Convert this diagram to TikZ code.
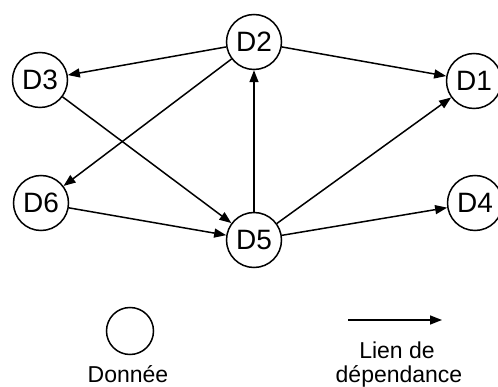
\documentclass[tikz,border=0pt]{standalone}
\usepackage{fontspec}
\setmainfont{Liberation Sans}
\usetikzlibrary{arrows.meta}
\begin{document}
\begin{tikzpicture}[x=1pt,y=-1pt,
  data/.style={draw,circle,line width=1.5pt,minimum size=55pt,inner sep=0pt,font=\fontsize{28}{28}\selectfont},
  dep/.style={line width=1.5pt,-{Triangle[length=12pt,width=9pt]}},
  legtext/.style={font=\fontsize{23}{25}\selectfont,inner sep=0pt}]
\useasboundingbox (0,0) rectangle (498,387);
\node[data] (D2) at (254,42) {D2};
\node[data] (D3) at (40,80) {D3};
\node[data] (D1) at (474,81) {D1};
\node[data] (D6) at (41,203) {D6};
\node[data] (D5) at (254,240) {D5};
\node[data] (D4) at (475,203) {D4};
\draw[dep] (D2) -- (D3);
\draw[dep] (D2) -- (D1);
\draw[dep] (D2) -- (D6);
\draw[dep] (D3) -- (D5);
\draw[dep] (D6) -- (D5);
\draw[dep] (D5) -- (D2);
\draw[dep] (D5) -- (D1);
\draw[dep] (D5) -- (D4);
% legend
\node[draw,circle,line width=1.5pt,minimum size=47pt,inner sep=0pt] (leg) at (130,331) {};
\node[legtext,anchor=base] (legl) at (128,382) {Donnée};
\coordinate (a1) at (348,320);
\coordinate (a2) at (442,320);
\draw[dep] (a1) -- (a2);
\node[legtext,anchor=base] (dl1) at (397,358) {Lien de};
\node[legtext,anchor=base] (dl2) at (399,382) {dépendance};
\end{tikzpicture}
\end{document}
